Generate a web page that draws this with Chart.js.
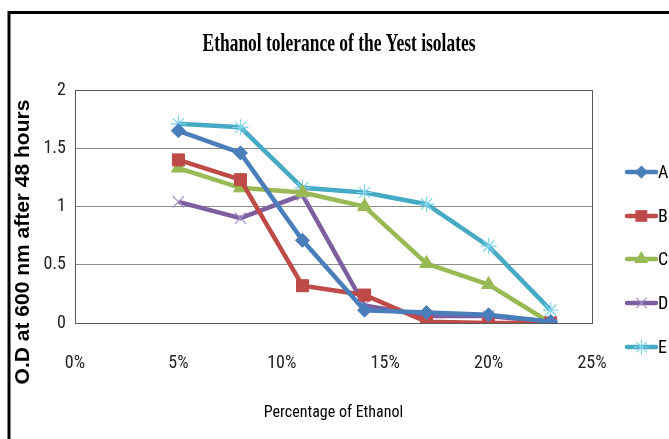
<!DOCTYPE html>
<html>
<head>
<meta charset="utf-8">
<script src="https://cdn.jsdelivr.net/npm/chart.js@4/dist/chart.umd.min.js"></script>
<style>
  html, body { margin: 0; padding: 0; background: #fff; }
  canvas { display: block; }
</style>
</head>
<body>
<canvas id="c" width="669" height="439"></canvas>
<script>
// ethanol % on x, O.D at 600 nm on y
const ethanolPct = [5, 8, 11, 14, 17, 20, 23];
const isoA = [1.65, 1.46, 0.71, 0.11, 0.09, 0.07, 0.01];
const isoB = [1.40, 1.23, 0.32, 0.24, 0.01, 0.00, 0.00];
const isoC = [1.33, 1.16, 1.12, 1.00, 0.51, 0.33, 0.00];
const isoD = [1.04, 0.90, 1.10, 0.15, 0.06, 0.06, 0.01];
const isoE = [1.71, 1.68, 1.16, 1.12, 1.02, 0.66, 0.11];

const isolates = ["A", "B", "C", "D", "E"];
const xTickLabels = ["0%", "5%", "10%", "15%", "20%", "25%"];
const yTickLabels = ["0", "0.5", "1", "1.5", "2"];

const narrow = "'Roboto Condensed', 'Liberation Sans', sans-serif";

const styles = [
  { color: "#4A7EBB", point: "rectRot", r: 7, pb: "#4A7EBB", bw: 1 },
  { color: "#BE4B48", point: "rect", r: 8.5, pb: "#BE4B48", bw: 1 },
  { color: "#98B954", point: "triangle", r: 8, pb: "#98B954", bw: 1 },
  { color: "#7D5FA0", point: "crossRot", r: 8, pb: "#A592C8", bw: 1.2 },
  { color: "#46AAC5", point: "star", r: 8, pb: "#7FD3EA", bw: 1.2 }
];

const series = [isoA, isoB, isoC, isoD, isoE];

const datasets = series.map((vals, i) => ({
  label: isolates[i],
  data: vals.map((v, j) => ({ x: ethanolPct[j], y: v })),
  borderColor: styles[i].color,
  backgroundColor: styles[i].color,
  borderWidth: 4.5,
  pointStyle: styles[i].point,
  pointRadius: styles[i].r,
  pointBorderColor: styles[i].pb,
  pointBackgroundColor: styles[i].color,
  pointBorderWidth: styles[i].bw,
  tension: 0
}));

// frame, title, y title, plot border and the side legend
const decor = {
  id: "decor",
  beforeDatasetsDraw(chart) {
    const { ctx, chartArea: a } = chart;
    ctx.save();
    ctx.strokeStyle = "#595959";
    ctx.lineWidth = 1;
    ctx.strokeRect(Math.round(a.left) + 0.5, Math.round(a.top) + 0.5,
      Math.round(a.right - a.left), Math.round(a.bottom - a.top));
    ctx.restore();
  },
  afterDraw(chart) {
    const { ctx } = chart;
    ctx.save();

    // outer frame (top + left edges visible)
    ctx.strokeStyle = "#000";
    ctx.lineWidth = 3;
    ctx.beginPath();
    ctx.moveTo(9, 439);
    ctx.lineTo(9, 12.5);
    ctx.lineTo(669, 12.5);
    ctx.stroke();

    // chart title, condensed bold serif
    const title = "Ethanol tolerance of the Yest isolates";
    ctx.font = "bold 25px 'Liberation Serif', 'Times New Roman', serif";
    ctx.fillStyle = "#000";
    ctx.textAlign = "center";
    ctx.textBaseline = "middle";
    const tw = ctx.measureText(title).width;
    ctx.save();
    ctx.translate(339, 45);
    ctx.scale(273 / tw, 1);
    ctx.fillText(title, 0, 0);
    ctx.restore();

    // y axis title
    ctx.save();
    ctx.translate(23, 242);
    ctx.rotate(-Math.PI / 2);
    ctx.font = "bold 21px 'Liberation Sans', Arial, sans-serif";
    ctx.fillText("O.D at 600 nm after 48 hours", 0, 0);
    ctx.restore();

    // legend: line with marker, then label
    const ly = [172, 216, 259, 303, 347];
    chart.data.datasets.forEach((ds, i) => {
      const y = ly[i];
      ctx.strokeStyle = ds.borderColor;
      ctx.lineWidth = 4.5;
      ctx.lineCap = "round";
      ctx.beginPath();
      ctx.moveTo(627, y);
      ctx.lineTo(656, y);
      ctx.stroke();
      ctx.fillStyle = ds.pointBackgroundColor;
      ctx.strokeStyle = ds.pointBorderColor;
      ctx.lineWidth = ds.pointBorderWidth;
      Chart.helpers.drawPoint(ctx, {
        pointStyle: ds.pointStyle,
        radius: ds.pointRadius - 1,
        borderWidth: ds.pointBorderWidth,
        rotation: 0
      }, 641.5, y);
      ctx.fillStyle = "#000";
      ctx.font = "18px " + narrow;
      ctx.textAlign = "left";
      ctx.fillText(ds.label, 658, y + 1);
    });

    ctx.restore();
  }
};

new Chart(document.getElementById("c"), {
  type: "line",
  data: { datasets },
  plugins: [decor],
  options: {
    responsive: false,
    animation: false,
    devicePixelRatio: 1,
    layout: { padding: { top: 90, right: 77, left: 0, bottom: 0 } },
    plugins: {
      legend: { display: false },
      title: { display: false },
      tooltip: { enabled: false }
    },
    scales: {
      x: {
        type: "linear",
        min: 0,
        max: 25,
        afterFit(s) { s.height = 116; },
        afterBuildTicks(s) {
          s.ticks = xTickLabels.map(t => ({ value: parseFloat(t) }));
        },
        border: { display: false },
        grid: { display: false, drawTicks: false },
        ticks: {
          padding: 30,
          color: "#222",
          font: { family: narrow, size: 18 },
          callback: (v, i) => xTickLabels[i]
        },
        title: {
          display: true,
          text: "Percentage of Ethanol",
          color: "#000",
          font: { family: narrow, size: 16 },
          padding: { top: 0, bottom: 16 }
        }
      },
      y: {
        min: 0,
        max: 2,
        afterFit(s) { s.width = 75; },
        afterBuildTicks(s) {
          s.ticks = yTickLabels.map(t => ({ value: parseFloat(t) }));
        },
        border: { display: false },
        grid: { color: "#8c8c8c", lineWidth: 1, drawTicks: false },
        ticks: {
          padding: 9,
          color: "#222",
          font: { family: narrow, size: 18 },
          callback: (v, i) => yTickLabels[i]
        }
      }
    }
  }
});
</script>
</body>
</html>
